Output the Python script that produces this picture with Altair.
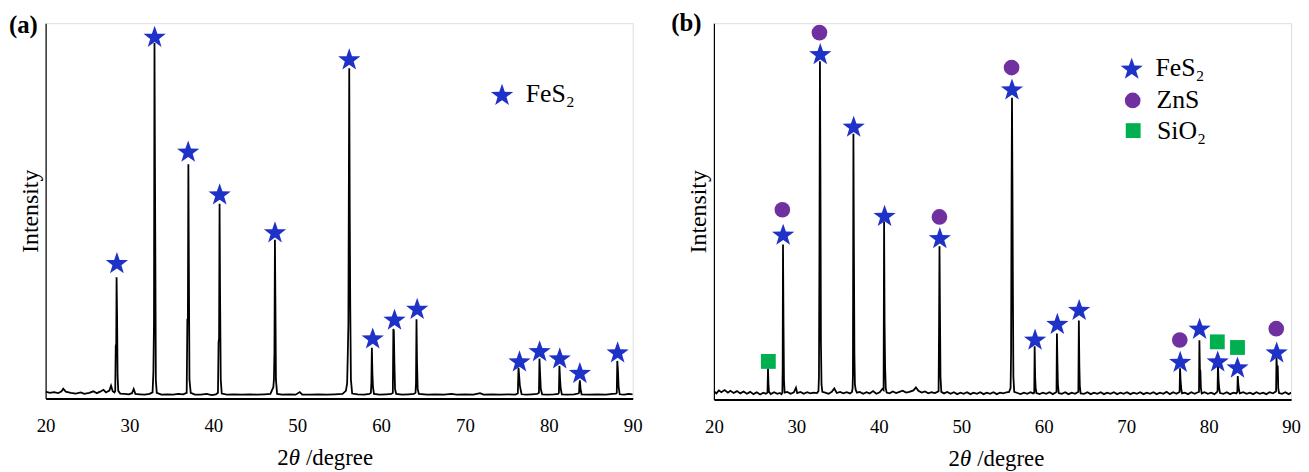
import math
import altair as alt
import pandas as pd

FONT = "Liberation Serif"

# ---------------- panel (a): XRD pattern (2theta, intensity) ----------------
a_x = [20.0, 20.5, 21.0, 21.5, 21.9, 22.1, 22.4, 23.0, 23.6, 24.2, 24.6, 25.2, 25.7, 26.1, 26.5, 26.9, 27.2, 27.6, 27.8, 28.0, 28.2,
       28.30, 28.36, 28.42, 28.46, 28.52, 28.58, 28.66,
       28.9, 29.4, 29.9, 30.3, 30.5, 30.7, 31.2, 31.8, 32.4,
       32.75, 32.85, 32.92, 32.98, 33.04, 33.08, 33.14, 33.25,
       33.8, 34.5, 35.2, 35.8, 36.4,
       36.82, 36.90, 36.96, 37.02, 37.08, 37.15, 37.3,
       37.8, 38.5, 39.2, 39.8, 40.3,
       40.55, 40.62, 40.68, 40.74, 40.80, 40.88, 41.0,
       41.6, 42.5, 43.4, 44.3, 45.2, 46.1, 46.8,
       47.15, 47.22, 47.28, 47.34, 47.40, 47.46, 47.6,
       48.2, 49.0, 49.8, 50.3, 50.6, 51.5, 52.5, 53.5, 54.5, 55.4, 55.8,
       55.95, 56.02, 56.10, 56.20, 56.26, 56.32, 56.40, 56.55,
       57.2, 58.0, 58.6,
       58.78, 58.84, 58.90, 58.96, 59.03, 59.15,
       59.8, 60.6, 61.2,
       61.40, 61.46, 61.52, 61.58, 61.66, 61.8,
       62.5, 63.3, 63.9,
       64.10, 64.16, 64.22, 64.28, 64.36, 64.5,
       65.5, 66.5, 67.5, 68.4, 69.0, 70.0, 71.0, 71.8, 72.2, 73.2, 74.2, 75.2, 76.0,
       76.30, 76.38, 76.46, 76.54, 76.62, 76.75,
       77.3, 78.0, 78.6,
       78.82, 78.88, 78.96, 79.04, 79.2,
       79.8, 80.6, 81.1,
       81.20, 81.26, 81.34, 81.42, 81.55,
       82.2, 83.0, 83.5,
       83.60, 83.64, 83.70, 83.78, 83.9,
       84.8, 85.8, 86.8, 87.6, 88.0,
       88.10, 88.16, 88.24, 88.32, 88.45,
       89.0, 89.5, 90.0]
a_y = [1.8, 1.5, 1.7, 1.4, 1.9, 2.6, 1.8, 1.5, 1.3, 1.6, 1.2, 1.5, 1.9, 1.4, 1.8, 2.3, 1.6, 2.1, 3.4, 1.9, 1.6,
       2.0, 14.0, 14.5, 32.3, 22.0, 6.0, 2.0,
       1.3, 1.2, 1.1, 1.4, 2.5, 1.2, 1.1, 1.0, 1.2,
       1.6, 7.0, 20.0, 94.7, 60.0, 40.0, 5.0, 1.5,
       1.0, 1.1, 1.0, 1.2, 1.1,
       1.5, 21.0, 21.0, 62.4, 35.0, 5.0, 1.5,
       1.0, 1.0, 1.2, 0.9, 1.1,
       1.5, 15.0, 16.0, 51.9, 28.0, 5.0, 1.3,
       1.0, 1.1, 1.0, 1.1, 1.0, 1.1, 1.2,
       3.0, 5.0, 12.0, 42.3, 25.0, 5.0, 1.2,
       1.0, 1.1, 1.0, 1.7, 1.0, 1.0, 1.1, 1.0, 1.1, 1.2, 2.0,
       4.0, 11.0, 20.0, 88.0, 50.0, 25.0, 5.0, 1.3,
       1.1, 1.0, 1.2,
       1.5, 4.0, 13.5, 7.0, 3.0, 1.2,
       1.0, 1.1, 1.2,
       1.5, 18.5, 18.0, 10.0, 2.5, 1.2,
       1.0, 1.1, 1.2,
       1.5, 4.0, 21.1, 10.0, 2.5, 1.2,
       1.0, 1.1, 1.0, 1.2, 1.0, 1.1, 1.0, 1.4, 1.0, 1.1, 1.0, 1.1, 1.0,
       1.3, 8.2, 6.0, 3.5, 2.5, 1.1,
       1.0, 1.1, 1.2,
       1.5, 10.6, 6.5, 2.5, 1.1,
       1.0, 1.1, 1.2,
       1.5, 8.7, 5.0, 2.5, 1.1,
       1.0, 1.1, 1.3,
       1.5, 3.5, 4.8, 2.5, 1.1,
       1.0, 1.1, 1.0, 1.2, 1.3,
       1.5, 10.0, 7.5, 3.0, 1.1,
       1.0, 1.2, 1.1]

# panel (a) phase markers
a_fes2_x = [28.5, 33.0, 37.0, 40.75, 47.35, 56.2, 59.0, 61.6, 64.3, 76.5, 78.9, 81.3, 83.7, 88.2]
a_fes2_y = [36.2, 96.5, 65.9, 54.5, 44.4, 90.5, 16.1, 21.1, 24.0, 10.0, 12.7, 10.8, 6.9, 12.4]

# ---------------- panel (b): XRD pattern ----------------
b_x = [20.0, 20.3, 20.6, 20.9, 21.3, 21.7, 22.0, 22.4, 22.8, 23.2, 23.6, 24.0, 24.4, 24.8, 25.2, 25.6, 26.0, 26.3,
       26.50, 26.56, 26.62, 26.68,
       26.9, 27.3, 27.7, 28.0, 28.2,
       28.30, 28.34, 28.38, 28.44, 28.50, 28.58,
       28.9, 29.3, 29.7, 29.95, 30.1, 30.5, 30.9, 31.3, 31.7, 32.1, 32.5,
       32.68, 32.74, 32.80, 32.86, 32.92, 32.98, 33.05, 33.15,
       33.5, 33.9, 34.3, 34.6, 34.9, 35.3, 35.7, 36.1, 36.5, 36.75,
       36.82, 36.86, 36.92, 36.98, 37.04, 37.10, 37.2, 37.35,
       37.7, 38.1, 38.5, 38.9, 39.3, 39.7, 40.1, 40.45,
       40.58, 40.64, 40.70, 40.76, 40.84, 40.95,
       41.3, 41.7, 42.1, 42.5, 42.9, 43.3, 43.7, 44.2, 44.5, 44.8, 45.2, 45.6, 46.0, 46.4, 46.8, 47.1,
       47.25, 47.30, 47.36, 47.42, 47.48, 47.58,
       47.9, 48.3, 48.7, 49.1, 49.5, 49.9, 50.3, 50.7, 51.1, 51.5, 51.9, 52.3, 52.7, 53.1, 53.5, 53.9, 54.3, 54.7, 55.1, 55.5, 55.8,
       55.98, 56.04, 56.10, 56.15, 56.20, 56.26, 56.32, 56.42,
       56.8, 57.2, 57.6, 58.0, 58.4, 58.7,
       58.85, 58.90, 58.96, 59.02, 59.12,
       59.5, 59.9, 60.3, 60.7, 61.1, 61.45,
       61.55, 61.60, 61.66, 61.72, 61.82,
       62.2, 62.6, 63.0, 63.4, 63.8, 64.1,
       64.20, 64.26, 64.32, 64.38, 64.48,
       64.9, 65.3, 65.7, 66.1, 66.5, 66.9, 67.3, 67.7, 68.1, 68.5, 68.9, 69.3, 69.7, 70.1, 70.5, 70.9, 71.3, 71.7, 72.1, 72.5,
       72.9, 73.3, 73.7, 74.1, 74.5, 74.9, 75.3, 75.7, 76.1, 76.4,
       76.48, 76.53, 76.60, 76.68, 76.78,
       77.1, 77.5, 77.9, 78.3, 78.7,
       78.83, 78.88, 78.94, 79.00, 79.06, 79.16,
       79.5, 79.9, 80.3, 80.7, 81.0,
       81.08, 81.13, 81.20, 81.28, 81.38,
       81.8, 82.2, 82.6, 83.0, 83.35,
       83.48, 83.53, 83.60, 83.68, 83.78,
       84.2, 84.6, 85.0, 85.4, 85.8, 86.2, 86.6, 87.0, 87.4, 87.8, 88.1,
       88.18, 88.23, 88.30, 88.38, 88.44, 88.54,
       88.9, 89.3, 89.7, 90.0]
b_y = [2.2, 1.6, 2.4, 1.9, 2.5, 1.8, 2.3, 1.7, 2.2, 1.6, 2.1, 1.5, 2.0, 1.4, 1.9, 1.3, 1.8, 1.5,
       1.8, 8.3, 4.0, 2.0,
       1.4, 1.9, 1.5, 1.7, 1.4,
       1.8, 8.0, 41.2, 20.0, 5.0, 1.8,
       2.0, 1.5, 1.9, 3.1, 1.7, 2.0, 1.5, 1.9, 1.6, 1.8, 1.7,
       2.2, 6.0, 40.0, 89.9, 60.0, 15.0, 4.0, 2.0,
       1.8, 1.5, 2.0, 2.9, 1.7, 2.0, 1.6, 1.9, 1.6, 2.0,
       3.0, 6.5, 70.6, 40.0, 12.0, 4.0, 2.5, 1.8,
       2.0, 1.5, 1.9, 1.6, 2.2, 1.5, 1.9, 2.8,
       2.5, 47.3, 20.0, 9.0, 3.0, 1.8,
       1.6, 2.1, 1.7, 2.0, 2.3, 1.8, 2.0, 2.4, 3.2, 2.3, 1.8, 2.1, 1.6, 1.9, 1.7, 2.0,
       2.2, 18.0, 40.7, 22.0, 6.0, 2.0,
       1.6, 2.0, 1.5, 1.9, 1.4, 1.8, 1.5, 1.9, 1.4, 1.8, 1.5, 1.9, 1.4, 1.8, 1.5, 1.9, 1.4, 1.8, 1.6, 1.9, 2.0,
       3.0, 12.0, 55.0, 80.2, 60.0, 30.0, 6.0, 2.0,
       1.7, 1.4, 1.8, 1.5, 1.9, 1.6,
       1.8, 14.1, 6.0, 3.0, 1.7,
       1.4, 1.8, 1.5, 1.9, 1.4, 1.8,
       2.0, 17.5, 10.0, 4.0, 1.7,
       1.5, 1.9, 1.4, 1.8, 1.5, 1.9,
       2.0, 21.0, 9.0, 3.5, 1.6,
       1.5, 1.9, 1.4, 1.8, 1.5, 1.9, 1.4, 1.8, 1.5, 1.9, 1.4, 1.8, 1.5, 1.9, 1.4, 1.8, 1.5, 1.9, 1.4, 1.8,
       1.5, 1.9, 1.4, 1.8, 1.5, 2.0, 1.4, 1.9, 1.5, 1.9,
       2.0, 8.3, 5.0, 2.8, 1.6,
       1.8, 1.4, 1.9, 1.5, 1.9,
       2.0, 15.7, 8.0, 7.5, 3.0, 1.6,
       1.9, 1.5, 1.8, 1.4, 1.9,
       2.2, 9.2, 5.0, 3.0, 1.7,
       1.5, 1.9, 1.4, 1.8, 1.6,
       2.0, 6.2, 4.0, 2.5, 1.6,
       1.9, 1.5, 1.8, 1.4, 1.9, 1.5, 1.8, 1.4, 1.9, 1.6, 2.0,
       2.2, 11.0, 8.0, 9.0, 3.0, 1.7,
       1.5, 1.9, 1.4, 1.8]

# panel (b) phase markers
b_fes2_x = [28.4, 32.9, 36.95, 40.7, 47.4, 56.15, 58.95, 61.65, 64.3, 76.55, 78.9, 81.1, 83.5, 88.25]
b_fes2_y = [43.9, 91.9, 72.6, 48.9, 43.0, 82.5, 16.0, 20.2, 23.9, 10.1, 18.9, 10.2, 8.6, 12.6]
b_zns_x = [28.3, 32.8, 47.35, 56.1, 76.5, 88.2]
b_zns_y = [50.4, 97.5, 48.5, 88.2, 15.8, 18.8]
b_sio2_x = [26.6, 81.05, 83.5]
b_sio2_y = [10.1, 15.3, 13.8]

PHASES = ["FeS\u2082", "ZnS", "SiO\u2082"]
COLORS = ["#1F32C8", "#7030A0", "#00B050"]


# five-pointed star symbol path in the unit box [-1, 1]
def star_path(inner=0.4):
    pts = []
    for k in range(10):
        r = 1.0 if k % 2 == 0 else inner
        ang = math.radians(-90 + 36 * k)
        pts.append((r * math.cos(ang), r * math.sin(ang) + 0.095))
    return "M" + "L".join(f"{px:.4f},{py:.4f}" for px, py in pts) + "Z"


SHAPES = [star_path(), "circle", "square"]
SIZES = [560, 250, 225]


def text_layer(txt, x, y, size, baseline="middle", **kw):
    return alt.Chart(pd.DataFrame({"t": [txt]})).mark_text(
        font=FONT, fontSize=size, align="left", baseline=baseline, color="black", **kw
    ).encode(text="t:N", x=alt.value(x), y=alt.value(y))


def panel(line_x, line_y, marks, label, label_dx, label_dy, width, height, legend_rows, title_x0):
    line_df = pd.DataFrame({"deg": line_x, "val": line_y})

    xenc = alt.X("deg:Q",
                 scale=alt.Scale(domain=[20, 90], nice=False, zero=False),
                 axis=alt.Axis(values=list(range(20, 91, 10)), title=None,
                               ticks=False, grid=False, labelFont=FONT, labelFontSize=19,
                               labelColor="black", labelPadding=18, labelFlush=False,
                               domainColor="black", domainWidth=2))
    yenc = alt.Y("val:Q",
                 scale=alt.Scale(domain=[0, 100], nice=False),
                 axis=alt.Axis(title="Intensity", labels=False, ticks=False, grid=False,
                               titleFont=FONT, titleFontSize=24, titleFontWeight="normal",
                               titleColor="black", titlePadding=3,
                               domainColor="black", domainWidth=1.2))

    layers = [alt.Chart(line_df).mark_line(color="black", strokeWidth=1.8, clip=True).encode(x=xenc, y=yenc)]

    # phase markers on the peaks
    for i, (xs, ys) in enumerate(marks):
        df = pd.DataFrame({"deg": xs, "val": ys})
        layers.append(alt.Chart(df).mark_point(
            filled=True, opacity=1, strokeWidth=0, shape=SHAPES[i], size=SIZES[i], color=COLORS[i]
        ).encode(x="deg:Q", y="val:Q"))

    # legend (symbol + label per phase)
    for i, (sx, sy) in enumerate(legend_rows):
        df = pd.DataFrame({"t": [PHASES[i]]})
        layers.append(alt.Chart(df).mark_point(
            filled=True, opacity=1, strokeWidth=0, shape=SHAPES[i], size=SIZES[i], color=COLORS[i]
        ).encode(x=alt.value(sx), y=alt.value(sy)))
        layers.append(text_layer(PHASES[i], sx + 24, sy + 8, 26, baseline="alphabetic"))

    # panel label
    layers.append(text_layer(label, label_dx, label_dy, 25, fontWeight="bold"))

    # x axis title "2θ /degree" with an italic θ
    ty = height + 60
    layers.append(text_layer("2", title_x0, ty, 23))
    layers.append(text_layer("θ", title_x0 + 11.5, ty, 23, fontStyle="italic"))
    layers.append(text_layer("/degree", title_x0 + 29, ty, 23))

    return alt.layer(*layers).properties(width=width, height=height)


pa = panel(a_x, a_y, [(a_fes2_x, a_fes2_y)], "(a)", -37, 2, 593, 379,
           [(461, 72)], 234)
pb = panel(b_x, b_y, [(b_fes2_x, b_fes2_y), (b_zns_x, b_zns_y), (b_sio2_x, b_sio2_y)],
           "(b)", -43, 0, 583, 380,
           [(422, 45.5), (423, 78), (423.5, 108.5)], 237)

chart = alt.hconcat(pa, pb, spacing=28).properties(
    padding={"left": 0, "top": 0, "right": 0, "bottom": 0}
).configure_view(
    stroke="#333333", strokeWidth=1
).configure(font=FONT)

chart.save("out.html", embed_options={"renderer": "svg", "actions": False})
